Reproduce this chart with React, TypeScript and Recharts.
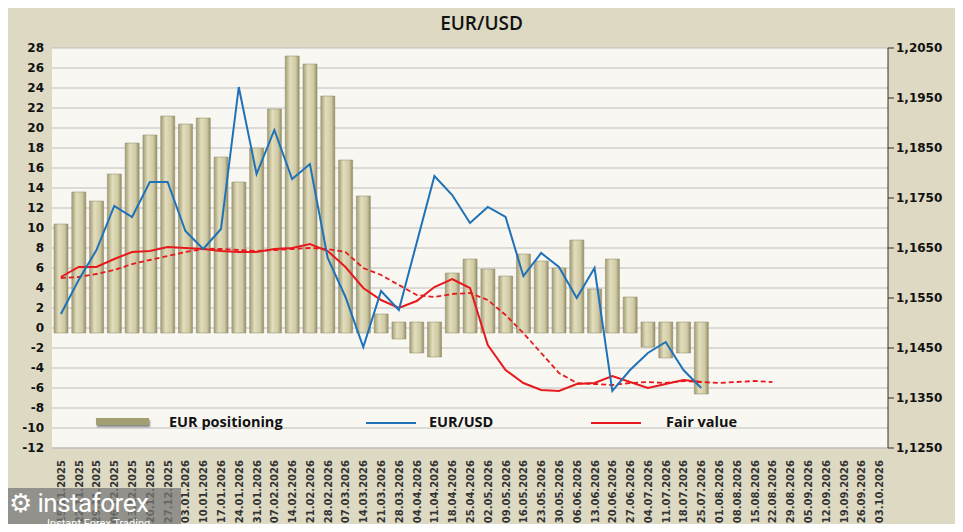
import React from "react";
import { ComposedChart, Bar, Line, XAxis, YAxis, CartesianGrid } from "recharts";

const dates = ["15.11.2025","22.11.2025","29.11.2025","06.12.2025","13.12.2025","20.12.2025","27.12.2025","03.01.2026","10.01.2026","17.01.2026","24.01.2026","31.01.2026","07.02.2026","14.02.2026","21.02.2026","28.02.2026","07.03.2026","14.03.2026","21.03.2026","28.03.2026","04.04.2026","11.04.2026","18.04.2026","25.04.2026","02.05.2026","09.05.2026","16.05.2026","23.05.2026","30.05.2026","06.06.2026","13.06.2026","20.06.2026","27.06.2026","04.07.2026","11.07.2026","18.07.2026","25.07.2026","01.08.2026","08.08.2026","15.08.2026","22.08.2026","29.08.2026","05.09.2026","12.09.2026","19.09.2026","26.09.2026","03.10.2026"];
const positioning = [10.4,13.6,12.7,15.4,18.5,19.3,21.2,20.4,21.0,17.1,14.6,18.0,21.9,27.2,26.4,23.2,16.8,13.2,1.4,-1.1,-2.5,-2.9,5.5,6.9,5.9,5.2,7.4,6.7,6.0,8.8,3.9,6.9,3.1,-1.9,-3.0,-2.5,-6.6];
const eurusd = [1.1518,1.1586,1.1646,1.1734,1.1712,1.1782,1.1782,1.1684,1.1648,1.1688,1.1972,1.1798,1.1886,1.1788,1.1818,1.1630,1.1552,1.1452,1.1564,1.1526,1.1660,1.1794,1.1756,1.1700,1.1732,1.1712,1.1594,1.1640,1.1612,1.1550,1.1610,1.1364,1.1406,1.1440,1.1462,1.1406,1.1370];
const fairValue = [1.1592,1.1612,1.1612,1.1628,1.1642,1.1644,1.1652,1.1650,1.1648,1.1644,1.1642,1.1642,1.1648,1.1650,1.1658,1.1644,1.1612,1.1570,1.1546,1.1530,1.1544,1.1572,1.1588,1.1570,1.1456,1.1406,1.1380,1.1366,1.1364,1.1378,1.1380,1.1394,1.1382,1.1370,1.1378,1.1386,1.1382];
const fairTrend = [1.1590,1.1592,1.1598,1.1606,1.1618,1.1626,1.1634,1.1642,1.1648,1.1648,1.1646,1.1644,1.1646,1.1648,1.1650,1.1648,1.1642,1.1610,1.1596,1.1576,1.1556,1.1552,1.1558,1.1560,1.1546,1.1516,1.1480,1.1440,1.1400,1.1380,1.1378,1.1376,1.1380,1.1382,1.1380,1.1384,1.1382,1.1380,1.1382,1.1384,1.1382];
const leftTicks = [-12,-10,-8,-6,-4,-2,0,2,4,6,8,10,12,14,16,18,20,22,24,26,28];
const rightTicks = [1.125,1.135,1.145,1.155,1.165,1.175,1.185,1.195,1.205];

const data = dates.map((d, i) => {
  const p = positioning[i];
  return {
    date: d,
    pos: p === undefined ? null : p >= 0 ? [-0.5, p] : [0.6, p],
    eurusd: eurusd[i] ?? null,
    fair: fairValue[i] ?? null,
    trend: fairTrend[i] ?? null,
  };
});

const DateTick = (props: any) => {
  const { x, y, payload } = props;
  return (
    <text x={x + 4} y={y + 4} transform={`rotate(-90 ${x + 4} ${y + 4})`} textAnchor="end"
      fontSize={10} fontWeight="bold" fill="#333" fontFamily="DejaVu Sans">{payload.value}</text>
  );
};

export default function App() {
  return (
    <div style={{ position: "relative", width: 963, height: 532, margin: -8, background: "#DDD9C3", border: "1px solid #555", boxSizing: "border-box", fontFamily: "DejaVu Sans" }}>
      <div style={{ position: "absolute", top: 9, width: "100%", textAlign: "center", fontFamily: "Open Sans", fontWeight: 600, fontSize: 19, color: "#111" }}>EUR/USD</div>
      <ComposedChart width={961} height={530} data={data} margin={{ top: 47, right: 0, left: 0, bottom: 0 }}>
        <defs>
          <linearGradient id="barg" x1="0" y1="0" x2="1" y2="0">
            <stop offset="0%" stopColor="#A39E78" />
            <stop offset="35%" stopColor="#E2DDBC" />
            <stop offset="75%" stopColor="#CFC9A4" />
            <stop offset="100%" stopColor="#948E68" />
          </linearGradient>
        </defs>
        <CartesianGrid vertical={false} stroke="#BDBDBD" fill="#F8F7F2" yAxisId="l" />
        <XAxis dataKey="date" interval={0} tick={<DateTick />} height={83} tickLine={false} axisLine={{ stroke: "#BDBDBD" }} />
        <YAxis yAxisId="l" domain={[-12, 28]} ticks={leftTicks} width={51} interval={0} tickLine={false} axisLine={false}
          tick={{ fontSize: 12, fontWeight: "bold", fill: "#111" }} />
        <YAxis yAxisId="r" orientation="right" domain={[1.125, 1.205]} ticks={rightTicks} width={74} interval={0}
          tickLine={{ stroke: "#333" }} axisLine={{ stroke: "#333" }}
          tickFormatter={(v: number) => v.toFixed(4).replace(".", ",")}
          tick={{ fontSize: 12, fontWeight: "bold", fill: "#111" }} />
        <Bar yAxisId="l" dataKey="pos" barSize={14} fill="url(#barg)" stroke="#8E8862" strokeWidth={0.5} isAnimationActive={false} />
        <Line yAxisId="r" dataKey="trend" stroke="#E8191C" strokeWidth={1.8} strokeDasharray="5 3" dot={false} isAnimationActive={false} />
        <Line yAxisId="r" dataKey="fair" stroke="#E8191C" strokeWidth={2} dot={false} isAnimationActive={false} />
        <Line yAxisId="r" dataKey="eurusd" stroke="#1F72B8" strokeWidth={2} dot={false} isAnimationActive={false} />
      </ComposedChart>
      <div style={{ position: "absolute", top: 411, left: 0, width: 963, height: 22, fontFamily: "Open Sans", fontWeight: 700, fontSize: 14.5, color: "#111" }}>
        <div style={{ position: "absolute", left: 95, top: 6, width: 53, height: 7, background: "#A49F72", boxShadow: "1px 2px 2px #888" }} />
        <div style={{ position: "absolute", left: 168, top: 0 }}>EUR positioning</div>
        <div style={{ position: "absolute", left: 365, top: 10, width: 50, height: 2, background: "#1F72B8" }} />
        <div style={{ position: "absolute", left: 428, top: 0 }}>EUR/USD</div>
        <div style={{ position: "absolute", left: 590, top: 10, width: 50, height: 2, background: "#E8191C" }} />
        <div style={{ position: "absolute", left: 665, top: 0 }}>Fair value</div>
      </div>
      <div style={{ position: "absolute", left: 0, top: 487, width: 180, height: 45, background: "rgba(120,120,120,0.75)", color: "#fff", fontFamily: "Roboto" }}>
        <div style={{ position: "absolute", left: 8, top: 0, fontSize: 26, lineHeight: "30px", letterSpacing: -0.5 }}>⚙ instaforex</div>
        <div style={{ position: "absolute", left: 46, top: 29, fontSize: 11, lineHeight: "13px" }}>Instant Forex Trading</div>
      </div>
    </div>
  );
}
